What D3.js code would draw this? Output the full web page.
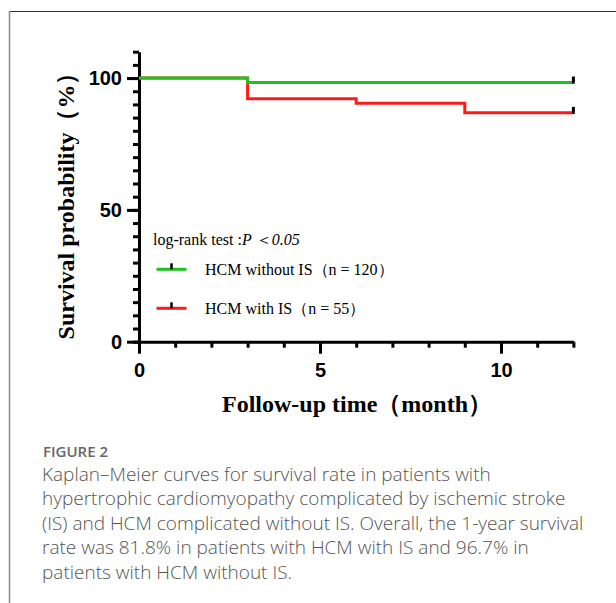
<!DOCTYPE html>
<html>
<head>
<meta charset="utf-8">
<script src="https://cdn.jsdelivr.net/npm/d3@7"></script>
<style>
  body { margin: 0; background: #fff; }
  .serif { font-family: "Liberation Serif", "Times New Roman", serif; }
  .axis text { font-family: "Liberation Sans", Arial, sans-serif; font-weight: bold; font-size: 20px; fill: #000; }
  .axis path, .axis line { stroke: #000; stroke-width: 3; }
  .caption { font-family: "Open Sans", "Noto Sans", sans-serif; }
</style>
</head>
<body>
<div id="chart"></div>
<script>
// data
const noIsTimes = [0, 3, 12];
const noIsSurv = [100, 98.3, 98.3];
const isTimes = [0, 3, 6, 9, 12];
const isSurv = [100, 92.2, 90.4, 86.8, 86.8];
const seriesNames = ["HCM without IS（n = 120）", "HCM with IS（n = 55）"];
const seriesColors = ["#1ec31e", "#ff1a1a"];
const xMajor = [0, 5, 10];
const yMajor = [0, 50, 100];
const captionLines = [
  "Kaplan–Meier curves for survival rate in patients with",
  "hypertrophic cardiomyopathy complicated by ischemic stroke",
  "(IS) and HCM complicated without IS. Overall, the 1-year survival",
  "rate was 81.8% in patients with HCM with IS and 96.7% in",
  "patients with HCM without IS."
];

/** CONSTANTS */
let width = 616,
  height = 603,
  margin = { top: 51.7, bottom: 261.3, left: 139, right: 42.6 };

/** SCALES */
let xScale = d3.scaleLinear()
  .domain([0, 12])
  .range([margin.left, width - margin.right]);

let yScale = d3.scaleLinear()
  .domain([0, 110])
  .range([height - margin.bottom, margin.top]);

let svg = d3.select("#chart")
  .append("svg")
  .attr("width", width)
  .attr("height", height);

// figure frame
svg.append("line").attr("x1", 9).attr("x2", width).attr("y1", 11.5).attr("y2", 11.5)
  .attr("stroke", "#333").attr("stroke-width", 1.2);
svg.append("line").attr("x1", 9.5).attr("x2", 9.5).attr("y1", 11).attr("y2", height)
  .attr("stroke", "#888").attr("stroke-width", 1.5);

/** AXES */
// minor ticks first, then the major ones with labels
let yMinor = d3.range(0, 111, 5);
let xMinor = d3.range(0, 13, 1);

svg.append("g")
  .attr("class", "axis")
  .attr("transform", `translate(${margin.left},0)`)
  .call(d3.axisLeft(yScale).tickValues(yMinor).tickSize(6).tickSizeOuter(0).tickFormat(""));
svg.append("g")
  .attr("class", "axis")
  .attr("transform", `translate(${margin.left},0)`)
  .call(d3.axisLeft(yScale).tickValues(yMajor).tickSize(12).tickSizeOuter(0).tickPadding(5))
  .call(g => g.select(".domain").remove());

svg.append("g")
  .attr("class", "axis")
  .attr("transform", `translate(0,${yScale(0)})`)
  .call(d3.axisBottom(xScale).tickValues(xMinor).tickSize(6).tickSizeOuter(0).tickFormat(""));
svg.append("g")
  .attr("class", "axis")
  .attr("transform", `translate(0,${yScale(0)})`)
  .call(d3.axisBottom(xScale).tickValues(xMajor).tickSize(12).tickSizeOuter(0).tickPadding(9))
  .call(g => g.select(".domain").remove());

/** CURVES */
let line = d3.line()
  .x(d => xScale(d[0]))
  .y(d => yScale(d[1]))
  .curve(d3.curveStepAfter);

let curves = [
  d3.zip(noIsTimes, noIsSurv),
  d3.zip(isTimes, isSurv)
];

// red drawn first so the green one sits on top where they overlap
svg.selectAll("path.km")
  .data(curves.map((c, i) => ({ c, i })).reverse())
  .join("path")
  .attr("class", "km")
  .attr("d", d => line(d.c))
  .attr("fill", "none")
  .attr("stroke", d => seriesColors[d.i])
  .attr("stroke-width", 3);

// censor marks at the end of follow-up
svg.selectAll("line.censor")
  .data(curves)
  .join("line")
  .attr("class", "censor")
  .attr("x1", d => xScale(d[d.length - 1][0]))
  .attr("x2", d => xScale(d[d.length - 1][0]))
  .attr("y1", d => yScale(d[d.length - 1][1]) + 1)
  .attr("y2", d => yScale(d[d.length - 1][1]) - 6)
  .attr("stroke", "#000")
  .attr("stroke-width", 3);

/** LEGEND */
let test = svg.append("text")
  .attr("class", "serif")
  .attr("x", 153)
  .attr("y", 245)
  .attr("font-size", 16);
test.append("tspan").text("log-rank test :");
test.append("tspan").attr("font-style", "italic").text("P");
test.append("tspan").text(" ＜");
test.append("tspan").attr("font-style", "italic").text("0.05");

let legend = svg.selectAll("g.legend")
  .data(seriesNames)
  .join("g")
  .attr("class", "legend")
  .attr("transform", (d, i) => `translate(156.5,${269.3 + i * 39})`);
legend.append("line")
  .attr("x1", 0).attr("x2", 30)
  .attr("stroke", (d, i) => seriesColors[i])
  .attr("stroke-width", 3);
legend.append("line")
  .attr("x1", 15).attr("x2", 15).attr("y1", 0).attr("y2", -6)
  .attr("stroke", "#000").attr("stroke-width", 2.5);
legend.append("text")
  .attr("class", "serif")
  .attr("x", 48.5)
  .attr("y", 5.5)
  .attr("font-size", 16)
  .text(d => d);

/** TITLES */
svg.append("text")
  .attr("class", "serif")
  .attr("font-weight", "bold")
  .attr("font-size", 24)
  .attr("text-anchor", "middle")
  .attr("transform", `translate(74,200) rotate(-90)`)
  .text("Survival probability（%）");

svg.append("text")
  .attr("class", "serif")
  .attr("font-weight", "bold")
  .attr("font-size", 24)
  .attr("text-anchor", "middle")
  .attr("x", 357)
  .attr("y", 412)
  .text("Follow-up time（month）");

/** CAPTION */
svg.append("text")
  .attr("class", "caption")
  .attr("x", 43)
  .attr("y", 456.5)
  .attr("font-size", 15)
  .attr("font-weight", 600)
  .attr("fill", "#666")
  .text("FIGURE 2");

svg.selectAll("text.capline")
  .data(captionLines)
  .join("text")
  .attr("class", "caption capline")
  .attr("x", 42)
  .attr("y", (d, i) => 480.5 + i * 24.5)
  .attr("font-size", 19)
  .attr("font-weight", 300)
  .attr("fill", "#555")
  .text(d => d);
</script>
</body>
</html>
